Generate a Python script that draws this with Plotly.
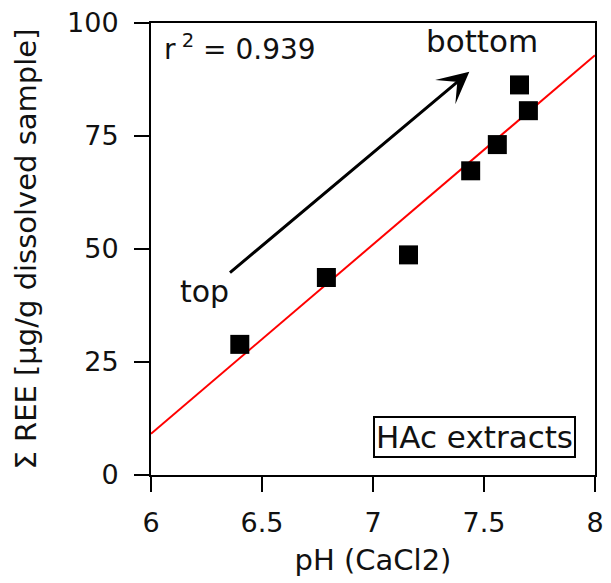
import numpy as np
import plotly.graph_objects as go

# Data
ph_cacl2 = [6.40, 6.79, 7.16, 7.44, 7.56, 7.66, 7.70]
sum_ree = [28.9, 43.7, 48.7, 67.3, 73.1, 86.3, 80.6]

x_ticks = [6, 6.5, 7, 7.5, 8]
x_tick_labels = ["6", "6.5", "7", "7.5", "8"]
y_ticks = [0, 25, 50, 75, 100]
y_tick_labels = ["0", "25", "50", "75", "100"]

r2_text = "r<sup> 2</sup> = 0.939"

# Linear regression of the points
slope, intercept = np.polyfit(ph_cacl2, sum_ree, 1)
fit_x = [6, 8]
fit_y = [slope * v + intercept for v in fit_x]

FONT = "DejaVu Sans"
TXT = "#111111"

fig = go.Figure()
fig.add_trace(go.Scatter(x=fit_x, y=fit_y, mode="lines",
                         line=dict(color="#ff0000", width=2), showlegend=False,
                         hoverinfo="skip"))
fig.add_trace(go.Scatter(x=ph_cacl2, y=sum_ree, mode="markers",
                         marker=dict(symbol="square", size=19, color="#000000"),
                         showlegend=False))

fig.update_layout(
    width=611, height=583,
    margin=dict(l=151, r=7, t=21, b=108),
    plot_bgcolor="white", paper_bgcolor="white",
    font=dict(family=FONT, size=28, color=TXT),
)
fig.update_xaxes(range=[6, 8], tickvals=x_ticks, ticktext=x_tick_labels,
                 showgrid=False, zeroline=False,
                 showline=True, linecolor="black", linewidth=2, mirror=True,
                 ticks="outside", ticklen=15, tickwidth=2, tickcolor="black",
                 ticklabelstandoff=8,
                 tickfont=dict(family=FONT, size=27, color=TXT),
                 title=dict(text="pH (CaCl2)", font=dict(family=FONT, size=29, color=TXT),
                            standoff=12))
fig.update_yaxes(range=[0, 100], tickvals=y_ticks, ticktext=y_tick_labels,
                 showgrid=False, zeroline=False,
                 showline=True, linecolor="black", linewidth=2, mirror=True,
                 ticks="outside", ticklen=15, tickwidth=2, tickcolor="black",
                 ticklabelstandoff=10,
                 tickfont=dict(family=FONT, size=27, color=TXT),
                 title=dict(text="\u03a3 REE [\u00b5g/g dissolved sample]",
                            font=dict(family=FONT, size=29, color=TXT),
                            standoff=22))

# Arrow from "top" to "bottom"
fig.add_annotation(x=7.434, y=89.2, ax=6.349, ay=44.5, xref="x", yref="y",
                   axref="x", ayref="y", text="", showarrow=True,
                   arrowhead=3, arrowsize=1.75, arrowwidth=3, arrowcolor="black")
fig.add_annotation(x=6.243, y=40.5, xref="x", yref="y", text="top",
                   showarrow=False, font=dict(family=FONT, size=30, color=TXT))
fig.add_annotation(x=7.490, y=96.0, xref="x", yref="y", text="bottom",
                   showarrow=False, font=dict(family=FONT, size=31, color=TXT))
fig.add_annotation(x=6.049, y=94.5, xref="x", yref="y", text=r2_text,
                   xanchor="left", showarrow=False,
                   font=dict(family=FONT, size=28, color=TXT))
fig.add_annotation(x=7.455, y=8.3, xref="x", yref="y", text="HAc extracts",
                   showarrow=False, bordercolor="black", borderwidth=2, borderpad=1,
                   bgcolor="white", font=dict(family=FONT, size=31, color=TXT))

fig.write_html("out.html")
